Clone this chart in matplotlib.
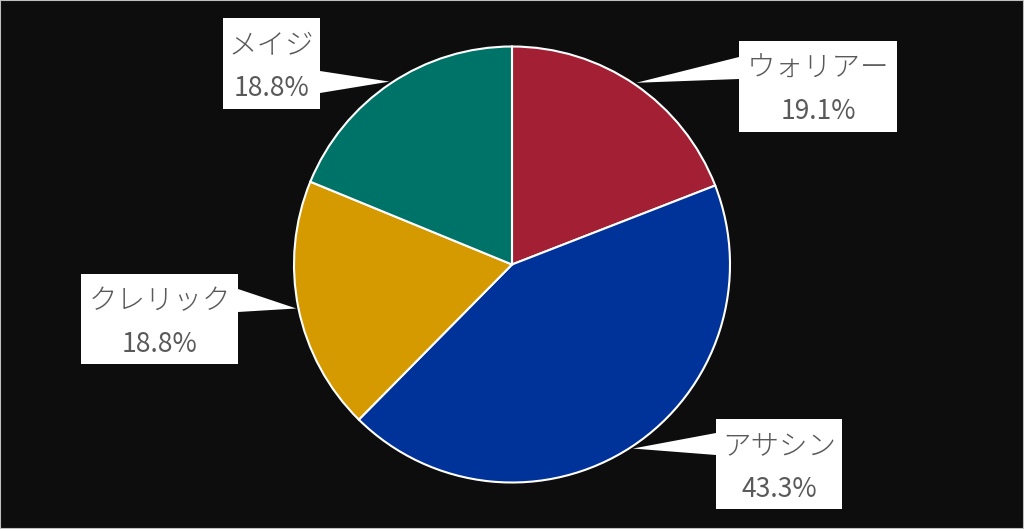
import numpy as np
import matplotlib
matplotlib.use('Agg')
import matplotlib.pyplot as plt
from matplotlib.patches import Rectangle, Polygon

plt.rcParams['font.family'] = ['Noto Sans CJK JP', 'DejaVu Sans']

# Data
labels = ['ウォリアー', 'アサシン', 'クレリック', 'メイジ']
shares = [19.1, 43.3, 18.8, 18.8]
colors = ['#A31F34', '#003399', '#D49A00', '#007368']

W, H = 1024, 529
fig = plt.figure(figsize=(W / 100, H / 100), dpi=100, facecolor='#0d0d0d')
ax = fig.add_axes([0, 0, 1, 1])
ax.set_facecolor('#0d0d0d')

# pixel coords (top-left origin) -> data coords
def py(y):
    return H - y

cx, cy, R = 512, 264.5, 218
ax.pie(shares, colors=colors, startangle=90, counterclock=False,
       center=(cx, py(cy)), radius=R, frame=True,
       wedgeprops=dict(edgecolor='white', linewidth=1.5))
ax.set_xlim(0, W)
ax.set_ylim(0, H)
ax.set_aspect('equal')
ax.axis('off')

# callout boxes: (left, top, right, bottom) in pixels, side where the pointer leaves
boxes = [(739, 41, 897, 132, 'left', 57, 79),
         (716, 419, 842, 509, 'left', 433, 455),
         (81, 274, 238, 364, 'right', 289, 312),
         (223, 18, 320, 109, 'right', 71, 93)]

cum = np.cumsum([0] + shares[:-1])
for lab, val, start, (x0, y0, x1, y1, side, b0, b1) in zip(labels, shares, cum, boxes):
    mid = np.deg2rad((start + val / 2) * 3.6)
    tx = cx + 1.01 * R * np.sin(mid)
    ty = cy - 1.01 * R * np.cos(mid)
    ex = x0 if side == 'left' else x1
    ax.add_patch(Polygon([(tx, py(ty)), (ex, py(b0)), (ex, py(b1))],
                         closed=True, facecolor='white', edgecolor='none', zorder=5))
    ax.add_patch(Rectangle((x0, py(y1)), x1 - x0, y1 - y0,
                           facecolor='white', edgecolor='none', zorder=5))
    xm = (x0 + x1) / 2
    hgt = y1 - y0
    ax.text(xm, py(y0 + hgt * 0.30), lab, ha='center', va='center',
            fontsize=20.5, color='#595959', fontweight='light', zorder=6)
    ax.text(xm, py(y0 + hgt * 0.78), f'{val:.1f}%', ha='center', va='center',
            fontsize=19, color='#595959', zorder=6)

# thin frame around the image
fig.patches.append(Rectangle((0, 0), 1, 1, transform=fig.transFigure,
                             fill=False, edgecolor='#bfbfbf', linewidth=1.5))

fig.savefig('out.png', dpi=100, facecolor=fig.get_facecolor())
